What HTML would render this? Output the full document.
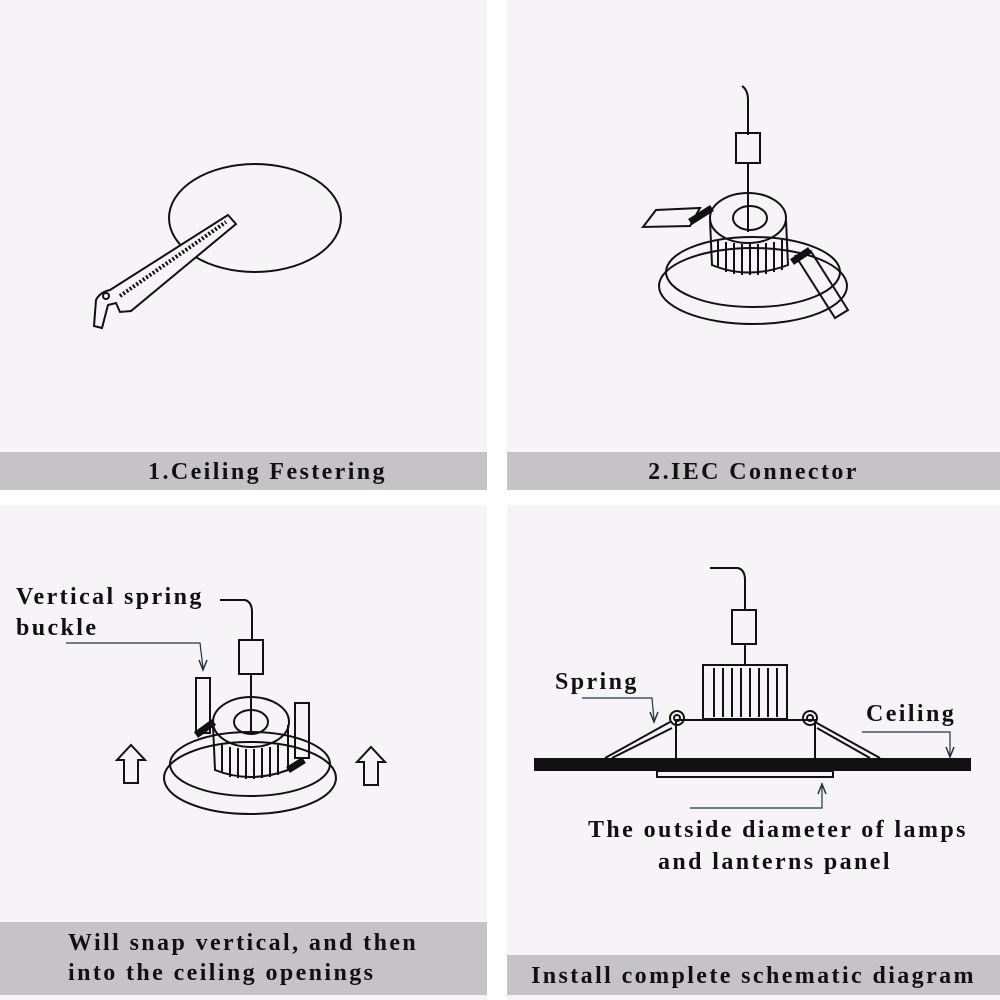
<!DOCTYPE html>
<html><head><meta charset="utf-8"><style>
body{margin:0;width:1000px;height:1000px;background:#fff;position:relative;overflow:hidden;font-family:"Liberation Serif",serif;}
.p{position:absolute;background:#f7f4f8;}
.bar{position:absolute;background:#c5c3c6;color:#111;font-weight:bold;font-size:24px;letter-spacing:2.4px;text-align:center;white-space:nowrap;box-sizing:border-box}
svg{position:absolute;left:0;top:0}
.t{position:absolute;font-weight:bold;font-size:24px;letter-spacing:2.4px;color:#111;line-height:31px;white-space:nowrap}
</style></head><body>
<div class="p" style="left:0;top:0;width:487px;height:490px"></div>
<div class="p" style="left:507px;top:0;width:493px;height:490px"></div>
<div class="p" style="left:0;top:505px;width:487px;height:495px"></div>
<div class="p" style="left:507px;top:505px;width:493px;height:495px"></div>
<div class="bar" style="left:0;top:452px;width:487px;height:38px;line-height:40px;padding-left:48px">1.Ceiling Festering</div>
<div class="bar" style="left:507px;top:452px;width:493px;height:38px;line-height:40px">2.IEC Connector</div>
<div class="bar" style="left:0;top:922px;width:487px;height:73px;text-align:left;line-height:30px;padding-top:6px;padding-left:68px">Will snap vertical, and then<br>into the ceiling openings</div>
<div class="bar" style="left:507px;top:955px;width:493px;height:40px;line-height:42px">Install complete schematic diagram</div>
<div class="t" style="left:16px;top:582px">Vertical spring<br>buckle</div>
<div class="t" style="left:555px;top:667px">Spring</div>
<div class="t" style="left:866px;top:699px">Ceiling</div>
<div class="t" style="left:588px;top:815px">The outside diameter of lamps</div>
<div class="t" style="left:658px;top:847px">and lanterns panel</div>
<svg width="1000" height="1000" fill="none" stroke="#111" stroke-width="2">
<ellipse cx="255" cy="218" rx="86" ry="54"/>
<path d="M228 215 L110 290 Q100 292 96 300 L94 326 L102 328 L108 305 L116 303 L120 312 L131 311 L236 224 Z" fill="#f7f4f8"/>
<path d="M120 296 L226 222" stroke-dasharray="2 2" stroke-width="4"/>
<circle cx="106" cy="296" r="3"/>
<path d="M742 86 Q748 90 748 100 L748 135"/>
<rect x="736" y="133" width="24" height="30"/>
<line x1="748" y1="163" x2="748" y2="232"/>
<ellipse cx="753" cy="286" rx="94" ry="38"/>
<ellipse cx="753" cy="272" rx="87" ry="35"/>
<ellipse cx="748" cy="218" rx="38" ry="25"/>
<ellipse cx="750" cy="218" rx="17" ry="12"/>
<path d="M710 220 L712 265 Q748 280 788 265 L786 220"/>
<path d="M718 240 V268 M726 242 V272 M734 243 V274 M742 244 V275 M750 244 V275 M758 244 V275 M766 243 V274 M774 242 V272 M782 240 V270"/>
<path d="M643 227 L656 210 L700 208 L690 226 Z"/>
<path d="M690 222 L712 208" stroke-width="7"/>
<path d="M795 255 L835 318 L848 310 L810 250"/>
<path d="M792 262 L810 250" stroke-width="7"/>
<path d="M220 600 L245 600 Q252 602 252 612 L252 640"/>
<rect x="239" y="640" width="24" height="34"/>
<line x1="251" y1="674" x2="251" y2="732"/>
<ellipse cx="250" cy="778" rx="86" ry="36"/>
<ellipse cx="250" cy="764" rx="80" ry="32"/>
<ellipse cx="251" cy="722" rx="38" ry="25"/>
<ellipse cx="251" cy="722" rx="17" ry="12"/>
<path d="M213 725 L215 770 Q250 784 288 770 L288 725"/>
<path d="M222 745 V773 M230 747 V777 M238 748 V778 M246 749 V779 M254 749 V779 M262 748 V778 M270 747 V777 M278 745 V775"/>
<rect x="196" y="678" width="14" height="55"/>
<rect x="295" y="703" width="14" height="55"/>
<path d="M196 735 L214 722" stroke-width="7"/>
<path d="M288 770 L304 760" stroke-width="7"/>
<path d="M117 760 L131 745 L145 760 L138 760 L138 783 L124 783 L124 760 Z"/>
<path d="M357 762 L371 747 L385 762 L378 762 L378 785 L364 785 L364 762 Z"/>
<path d="M66 643 L200 643 L203 668" stroke="#234" stroke-width="1.2"/>
<path d="M199 660 L203 670 L207 660" stroke="#234" stroke-width="1.5"/>
<path d="M710 568 L738 568 Q745 570 745 580 L745 610"/>
<rect x="732" y="610" width="24" height="34"/>
<line x1="745" y1="644" x2="745" y2="665"/>
<rect x="703" y="665" width="84" height="54"/>
<path d="M714 668 V717 M723 668 V717 M732 668 V717 M741 668 V717 M750 668 V717 M759 668 V717 M768 668 V717 M777 668 V717"/>
<path d="M676 720 L815 720 L815 772 L676 772 Z"/>
<rect x="535" y="759" width="435" height="11" fill="#111"/>
<rect x="657" y="771" width="176" height="6" fill="#f7f4f8"/>
<circle cx="677" cy="718" r="7"/><circle cx="677" cy="718" r="3"/>
<circle cx="810" cy="718" r="7"/><circle cx="810" cy="718" r="3"/>
<path d="M605 758 L670 722 M612 758 L672 728 M815 722 L880 758 M817 728 L870 758"/>
<path d="M582 698 L652 698 L654 720" stroke="#234" stroke-width="1.2"/>
<path d="M650 712 L654 722 L658 712" stroke="#234" stroke-width="1.5"/>
<path d="M862 732 L950 732 L950 755" stroke="#234" stroke-width="1.2"/>
<path d="M946 747 L950 757 L954 747" stroke="#234" stroke-width="1.5"/>
<path d="M690 808 L822 808 L822 786" stroke="#234" stroke-width="1.2"/>
<path d="M818 794 L822 784 L826 794" stroke="#234" stroke-width="1.5"/>
</svg>
</body></html>
